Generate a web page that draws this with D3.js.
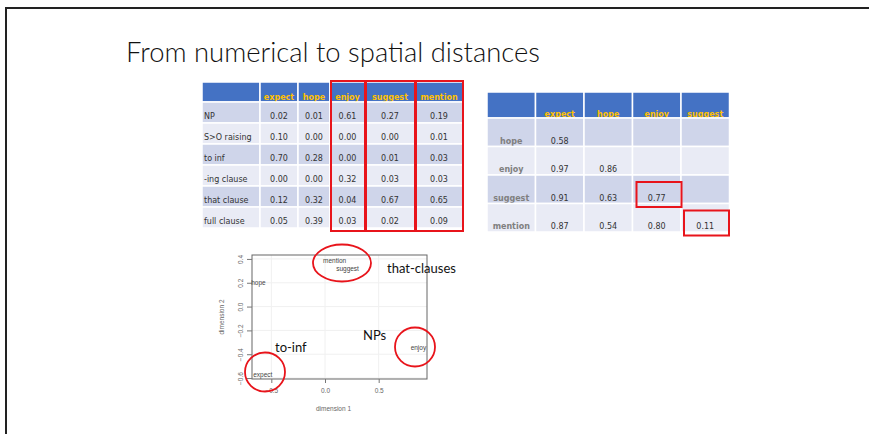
<!DOCTYPE html>
<html lang="en">
<head>
    <meta charset="UTF-8">
    <title>From numerical to spatial distances</title>
    <style>
        body { margin: 0; background: #fff; }
        svg { display: block; }
    </style>
</head>
<body>
    <svg id="slide" width="869" height="434"></svg>
    <script src="https://d3js.org/d3.v7.min.js"></script>
    <script>
        // ---- data ----
        var verbs = ["expect", "hope", "enjoy", "suggest", "mention"];
        var frames = ["NP", "S>O raising", "to inf", "-ing clause", "that clause", "full clause"];
        // proportion of each frame per verb (rows = frames, cols = verbs)
        var freqValues = [
            [0.02, 0.01, 0.61, 0.27, 0.19],
            [0.10, 0.00, 0.00, 0.00, 0.01],
            [0.70, 0.28, 0.00, 0.01, 0.03],
            [0.00, 0.00, 0.32, 0.03, 0.03],
            [0.12, 0.32, 0.04, 0.67, 0.65],
            [0.05, 0.39, 0.03, 0.02, 0.09]
        ];
        var freqHighlight = ["enjoy", "suggest", "mention"];

        var distRows = ["hope", "enjoy", "suggest", "mention"];
        var distCols = ["expect", "hope", "enjoy", "suggest"];
        var distValues = [
            [0.58, null, null, null],
            [0.97, 0.86, null, null],
            [0.91, 0.63, 0.77, null],
            [0.87, 0.54, 0.80, 0.11]
        ];
        var distHighlight = [["suggest", "enjoy"], ["mention", "suggest"]];

        var mdsWords = ["mention", "suggest", "hope", "enjoy", "expect"];
        var mdsDim1 = [0.09, 0.21, -0.62, 0.87, -0.58];
        var mdsDim2 = [0.38, 0.32, 0.20, -0.35, -0.57];
        var xTicks = [-0.5, 0.0, 0.5];
        var yTicks = [0.4, 0.2, 0.0, -0.2, -0.4, -0.6];

        var groups = [
            { label: "that-clauses", words: ["mention", "suggest"] },
            { label: "NPs", words: ["enjoy"] },
            { label: "to-inf", words: ["expect"] }
        ];

        var svg = d3.select("#slide");
        var fmt = d3.format(".2f");

        // slide frame
        svg.append("path")
           .attr("d", "M6,434 L6,8 L869,8")
           .attr("fill", "none")
           .attr("stroke", "#222")
           .attr("stroke-width", 2);

        svg.append("text")
           .attr("x", 126).attr("y", 62)
           .attr("font-family", "Lato, 'Open Sans', sans-serif")
           .attr("font-weight", 300)
           .attr("font-size", 27)
           .attr("fill", "#111")
           .attr("textLength", 414)
           .attr("lengthAdjust", "spacingAndGlyphs")
           .text("From numerical to spatial distances");

        var dark = "#cfd5ea", light = "#e9ebf5", blue = "#4472c4", gold = "#ffc000";

        // ---- table 1: frame frequencies ----
        var t1 = { left: 202, top: 82, headH: 20, rowH: 21, widths: [58, 38, 32, 35, 50, 48] };
        var t1Cols = [""].concat(verbs);
        var t1X = d3.scaleOrdinal().domain(t1Cols).range(d3.cumsum([0].concat(t1.widths)).map(function(v) { return t1.left + v; }));
        var t1W = d3.scaleOrdinal().domain(t1Cols).range(t1.widths);
        var t1Y = d3.scaleBand().domain(frames).range([t1.top + t1.headH, t1.top + t1.headH + frames.length * t1.rowH]);

        var g1 = svg.append("g").attr("font-family", "'DejaVu Sans', Verdana, sans-serif").attr("font-size", 8);

        t1Cols.forEach(function(c) {
            g1.append("rect")
              .attr("x", t1X(c)).attr("y", t1.top)
              .attr("width", t1W(c)).attr("height", t1.headH)
              .attr("fill", blue).attr("stroke", "#fff").attr("stroke-width", 1.5);
            if (c) {
                g1.append("text")
                  .attr("x", t1X(c) + t1W(c) / 2).attr("y", t1.top + t1.headH - 2)
                  .attr("text-anchor", "middle").attr("font-weight", "bold")
                  .attr("fill", gold).text(c);
            }
        });

        frames.forEach(function(f, i) {
            t1Cols.forEach(function(c, j) {
                g1.append("rect")
                  .attr("x", t1X(c)).attr("y", t1Y(f))
                  .attr("width", t1W(c)).attr("height", t1Y.bandwidth())
                  .attr("fill", i % 2 === 0 ? dark : light)
                  .attr("stroke", "#fff").attr("stroke-width", 1.5);
                g1.append("text")
                  .attr("x", j === 0 ? t1X(c) + 2 : t1X(c) + t1W(c) / 2)
                  .attr("y", t1Y(f) + t1Y.bandwidth() - 4)
                  .attr("text-anchor", j === 0 ? "start" : "middle")
                  .attr("fill", "#333")
                  .text(j === 0 ? f : fmt(freqValues[i][j - 1]));
            });
        });

        freqHighlight.forEach(function(c) {
            g1.append("rect")
              .attr("x", t1X(c) + 1).attr("y", t1.top - 1)
              .attr("width", t1W(c) - 1).attr("height", t1.headH + frames.length * t1.rowH + 4)
              .attr("fill", "none").attr("stroke", "#e8141b").attr("stroke-width", 2);
        });

        // ---- table 2: distance matrix ----
        var t2 = { left: 487, top: 92, headH: 26, rowH: 28.5, colW: 48.5 };
        var t2Cols = [""].concat(distCols);
        var t2X = d3.scaleBand().domain(t2Cols).range([t2.left, t2.left + t2Cols.length * t2.colW]);
        var t2Y = d3.scaleBand().domain(distRows).range([t2.top + t2.headH, t2.top + t2.headH + distRows.length * t2.rowH]);

        var g2 = svg.append("g").attr("font-family", "'DejaVu Sans', Verdana, sans-serif").attr("font-size", 8);

        t2Cols.forEach(function(c) {
            g2.append("rect")
              .attr("x", t2X(c)).attr("y", t2.top)
              .attr("width", t2X.bandwidth()).attr("height", t2.headH)
              .attr("fill", blue).attr("stroke", "#fff").attr("stroke-width", 1.5);
            if (c) {
                g2.append("text")
                  .attr("x", t2X(c) + t2X.bandwidth() / 2).attr("y", t2.top + t2.headH - 1)
                  .attr("text-anchor", "middle").attr("font-weight", "bold")
                  .attr("fill", gold).text(c);
            }
        });

        distRows.forEach(function(r, i) {
            t2Cols.forEach(function(c, j) {
                g2.append("rect")
                  .attr("x", t2X(c)).attr("y", t2Y(r))
                  .attr("width", t2X.bandwidth()).attr("height", t2Y.bandwidth())
                  .attr("fill", i % 2 === 0 ? dark : light)
                  .attr("stroke", "#fff").attr("stroke-width", 1.5);
                var v = j === 0 ? r : distValues[i][j - 1];
                if (v === null) return;
                g2.append("text")
                  .attr("x", t2X(c) + t2X.bandwidth() / 2)
                  .attr("y", t2Y(r) + t2Y.bandwidth() - 3)
                  .attr("text-anchor", "middle")
                  .attr("font-weight", j === 0 ? "bold" : "normal")
                  .attr("fill", j === 0 ? "#7f7f7f" : "#333")
                  .text(j === 0 ? v : fmt(v));
            });
        });

        distHighlight.forEach(function(h) {
            var x0 = t2X(h[1]), y0 = t2Y(h[0]);
            g2.append("rect")
              .attr("x", x0 + 3 + (h[1] === "suggest" ? 0 : 1)).attr("y", y0 + 7)
              .attr("width", 45).attr("height", 25)
              .attr("fill", "none").attr("stroke", "#e8141b").attr("stroke-width", 2);
        });

        // ---- MDS plot ----
        var p = { left: 252, right: 427, top: 255, bottom: 379 };
        var x = d3.scaleLinear().domain([-0.68, 0.95]).range([p.left, p.right]);
        var y = d3.scaleLinear().domain([0.433, -0.608]).range([p.top, p.bottom]);

        var g3 = svg.append("g").attr("font-family", "'Liberation Sans', Arial, sans-serif");

        // faint grid
        g3.selectAll(".gx").data(xTicks).enter().append("line")
          .attr("x1", function(d) { return x(d); }).attr("x2", function(d) { return x(d); })
          .attr("y1", p.top).attr("y2", p.bottom)
          .attr("stroke", "#f0f0f0");
        g3.selectAll(".gy").data(yTicks).enter().append("line")
          .attr("y1", function(d) { return y(d); }).attr("y2", function(d) { return y(d); })
          .attr("x1", p.left).attr("x2", p.right)
          .attr("stroke", "#f0f0f0");

        g3.append("rect")
          .attr("x", p.left).attr("y", p.top)
          .attr("width", p.right - p.left).attr("height", p.bottom - p.top)
          .attr("fill", "none").attr("stroke", "#666").attr("stroke-width", 1);

        // y axis, labels rotated like R's default
        var yAxis = g3.append("g")
          .attr("transform", "translate(" + p.left + ",0)")
          .call(d3.axisLeft(y).tickValues(yTicks).tickFormat(d3.format(".1f")).tickSize(5));
        yAxis.select(".domain").remove();
        yAxis.selectAll("line").attr("stroke", "#777");
        yAxis.selectAll(".tick text")
          .attr("font-size", 6.5).attr("fill", "#666")
          .attr("text-anchor", "middle")
          .attr("x", 0).attr("y", 0).attr("dy", "0")
          .attr("transform", "translate(-9,0) rotate(-90)");

        var xAxis = g3.append("g")
          .attr("transform", "translate(0," + p.bottom + ")")
          .call(d3.axisBottom(x).tickValues(xTicks).tickFormat(d3.format(".1f")).tickSize(4).tickPadding(5));
        xAxis.select(".domain").remove();
        xAxis.selectAll("line").attr("stroke", "#777");
        xAxis.selectAll("text").attr("font-size", 6.5).attr("fill", "#666");

        g3.append("text")
          .attr("x", (p.left + p.right) / 2 - 6).attr("y", 411)
          .attr("text-anchor", "middle").attr("font-size", 6.5).attr("fill", "#666")
          .text("dimension 1");
        g3.append("text")
          .attr("transform", "translate(224," + ((p.top + p.bottom) / 2) + ") rotate(-90)")
          .attr("text-anchor", "middle").attr("font-size", 6.5).attr("fill", "#666")
          .text("dimension 2");

        g3.selectAll(".word").data(mdsWords).enter().append("text")
          .attr("x", function(d, i) { return x(mdsDim1[i]); })
          .attr("y", function(d, i) { return y(mdsDim2[i]); })
          .attr("dy", "0.32em")
          .attr("text-anchor", "middle")
          .attr("font-size", 6.5).attr("fill", "#444")
          .text(function(d) { return d; });

        // red circles around groups + annotation labels
        var circles = [
            { cx: 342, cy: 263, rx: 29, ry: 18.5 },
            { cx: 415, cy: 347, rx: 20, ry: 19.5 },
            { cx: 265, cy: 372, rx: 20, ry: 19.5 }
        ];
        var labelPos = [[387, 273], [363, 340], [275, 352]];
        groups.forEach(function(gr, i) {
            g3.append("ellipse")
              .attr("cx", circles[i].cx).attr("cy", circles[i].cy)
              .attr("rx", circles[i].rx).attr("ry", circles[i].ry)
              .attr("fill", "none").attr("stroke", "#e8141b").attr("stroke-width", 1.8);
            g3.append("text")
              .attr("x", labelPos[i][0]).attr("y", labelPos[i][1])
              .attr("font-family", "Lato, 'Open Sans', sans-serif")
              .attr("font-size", 13).attr("fill", "#111")
              .text(gr.label);
        });
    </script>
</body>
</html>
